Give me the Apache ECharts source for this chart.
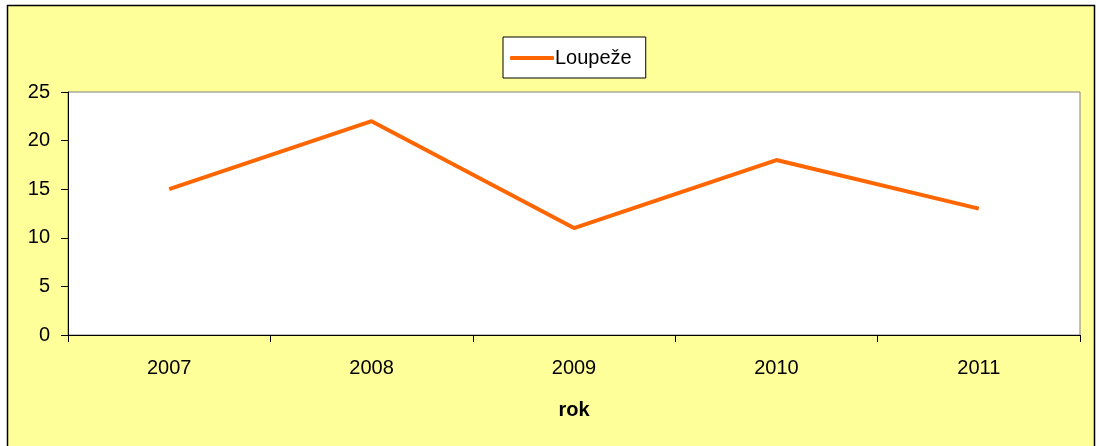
<!DOCTYPE html>
<html>
<head>
<meta charset="utf-8">
<script src="https://cdn.jsdelivr.net/npm/echarts@6/dist/echarts.min.js"></script>
<style>
html, body { margin: 0; padding: 0; background: #fff; }
#main { width: 1099px; height: 446px; }
</style>
</head>
<body>
<div id="main"></div>
<script>
var chartDom = document.getElementById('main');
var myChart = echarts.init(chartDom);
var option;

var years = ['2007', '2008', '2009', '2010', '2011'];
var loupeze = [15, 22, 11, 18, 13];
var yTicks = { min: 0, max: 25, interval: 5 };

option = {
    textStyle: { fontFamily: 'Liberation Sans, Arial, sans-serif' },
    graphic: [{
        type: 'rect',
        z: -10,
        shape: { x: 7.5, y: 5.5, width: 1087, height: 450 },
        style: { fill: '#FFFF99', stroke: '#000', lineWidth: 1.5 }
    }],
    legend: {
        top: 37,
        left: 503,
        data: ['Loupeže'],
        backgroundColor: '#fff',
        borderColor: '#000',
        borderWidth: 1,
        borderRadius: 0,
        padding: [11, 14, 10, 7],
        itemWidth: 44,
        itemHeight: 4,
        itemGap: 4,
        textStyle: { fontSize: 20, color: '#000', padding: [0, 0, 0, -4] },
        icon: 'roundRect'
    },
    grid: {
        left: 68,
        right: 19,
        top: 92,
        bottom: 111,
        show: true,
        backgroundColor: '#fff',
        borderColor: '#808080',
        borderWidth: 1
    },
    xAxis: {
        type: 'category',
        data: years,
        boundaryGap: true,
        name: 'rok',
        nameLocation: 'middle',
        nameGap: 65,
        nameTextStyle: { fontSize: 20, fontWeight: 'bold', color: '#000' },
        axisLine: { lineStyle: { color: '#000', width: 1 } },
        axisTick: { show: true, length: 7, lineStyle: { color: '#000' } },
        axisLabel: { fontSize: 20, color: '#000', margin: 23 },
        splitLine: { show: false }
    },
    yAxis: {
        type: 'value',
        min: yTicks.min,
        max: yTicks.max,
        interval: yTicks.interval,
        axisLine: { show: true, lineStyle: { color: '#000', width: 1 } },
        axisTick: { show: true, length: 7, lineStyle: { color: '#000' } },
        axisLabel: { fontSize: 20, color: '#000', margin: 18 },
        splitLine: { show: false }
    },
    series: [
        {
            name: 'Loupeže',
            type: 'line',
            data: loupeze,
            symbol: 'none',
            lineStyle: { color: '#FF6600', width: 4 },
            itemStyle: { color: '#FF6600' },
            animation: false
        }
    ]
};

option && myChart.setOption(option);
</script>
</body>
</html>
